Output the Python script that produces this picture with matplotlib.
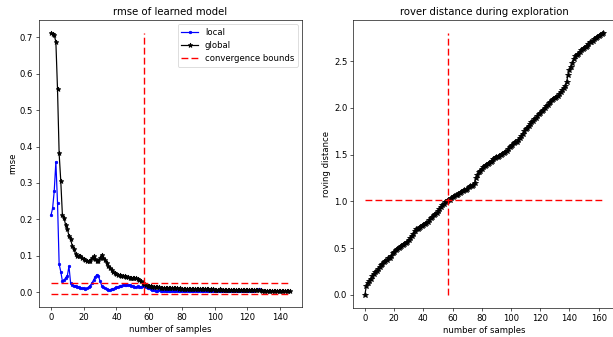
import matplotlib
matplotlib.use("Agg")
import matplotlib.pyplot as plt

# model error per sample count
local_rmse = [
    0.211, 0.230, 0.278, 0.358, 0.246, 0.077, 0.056, 0.030, 0.032, 0.040,
    0.045, 0.071, 0.025, 0.020, 0.018, 0.017, 0.015, 0.014, 0.012, 0.010,
    0.010, 0.009, 0.010, 0.013, 0.018, 0.025, 0.033, 0.042, 0.048, 0.044,
    0.030, 0.018, 0.013, 0.010, 0.008, 0.007, 0.007, 0.008, 0.009, 0.011,
    0.013, 0.015, 0.017, 0.018, 0.019, 0.020, 0.020, 0.019, 0.020, 0.018,
    0.016, 0.013, 0.015, 0.016, 0.014, 0.015, 0.016, 0.017, 0.014, 0.012,
    0.010, 0.008, 0.006, 0.005, 0.004, 0.004, 0.005, 0.004, 0.003, 0.003,
    0.004, 0.003, 0.002, 0.002, 0.003, 0.004, 0.003, 0.003, 0.004, 0.004,
    0.003, 0.003, 0.004, 0.003, 0.003, 0.002, 0.003, 0.003, 0.004, 0.003,
    0.003, 0.002, 0.002, 0.003, 0.003, 0.002, 0.002, 0.003, 0.003, 0.002,
    0.002, 0.003, 0.003, 0.002, 0.002, 0.002, 0.003, 0.002, 0.002, 0.003,
    0.003, 0.002, 0.002, 0.002, 0.003, 0.003, 0.002, 0.002, 0.003, 0.003,
    0.002, 0.002, 0.003, 0.003, 0.004, 0.005, 0.006, 0.008, 0.005,
]

global_rmse = [
    0.712, 0.710, 0.706, 0.688, 0.558, 0.381, 0.305, 0.211, 0.203, 0.184,
    0.173, 0.155, 0.146, 0.127, 0.118, 0.105, 0.100, 0.100, 0.098, 0.095,
    0.090, 0.087, 0.086, 0.085, 0.086, 0.095, 0.098, 0.090, 0.086, 0.085,
    0.095, 0.103, 0.095, 0.088, 0.080, 0.073, 0.066, 0.060, 0.056, 0.053,
    0.050, 0.048, 0.046, 0.045, 0.044, 0.043, 0.042, 0.041, 0.040, 0.040,
    0.039, 0.039, 0.038, 0.036, 0.034, 0.030, 0.026, 0.022, 0.019, 0.017,
    0.016, 0.016, 0.015, 0.014, 0.014, 0.013, 0.013, 0.012, 0.012, 0.012,
    0.011, 0.011, 0.010, 0.011, 0.010, 0.010, 0.010, 0.010, 0.009, 0.010,
    0.009, 0.009, 0.009, 0.009, 0.008, 0.009, 0.009, 0.008, 0.008, 0.009,
    0.008, 0.008, 0.008, 0.008, 0.008, 0.008, 0.008, 0.007, 0.008, 0.008,
    0.007, 0.007, 0.007, 0.008, 0.007, 0.007, 0.007, 0.007, 0.007, 0.007,
    0.007, 0.007, 0.006, 0.007, 0.007, 0.007, 0.006, 0.007, 0.007, 0.007,
    0.007, 0.007, 0.007, 0.006, 0.007, 0.007, 0.007, 0.006, 0.005, 0.004,
    0.004, 0.003, 0.003, 0.003, 0.004, 0.003, 0.003, 0.003, 0.003, 0.004,
    0.003, 0.003, 0.004, 0.003, 0.003, 0.003, 0.004,
]

# cumulative rover travel per sample
roving_distance = [
    0.00, 0.10, 0.13, 0.15, 0.17, 0.20, 0.22, 0.24, 0.26, 0.28,
    0.30, 0.32, 0.33, 0.35, 0.36, 0.37, 0.39, 0.40, 0.42, 0.45,
    0.46, 0.48, 0.49, 0.50, 0.51, 0.52, 0.53, 0.54, 0.55, 0.57,
    0.59, 0.61, 0.63, 0.65, 0.68, 0.70, 0.71, 0.72, 0.73, 0.74,
    0.75, 0.76, 0.77, 0.78, 0.80, 0.82, 0.83, 0.85, 0.87, 0.88,
    0.90, 0.92, 0.94, 0.96, 0.97, 0.99, 1.00, 1.01, 1.02, 1.04,
    1.05, 1.06, 1.07, 1.07, 1.08, 1.09, 1.10, 1.11, 1.12, 1.12,
    1.13, 1.15, 1.16, 1.17, 1.18, 1.20, 1.25, 1.28, 1.31, 1.33,
    1.35, 1.37, 1.38, 1.39, 1.40, 1.41, 1.42, 1.43, 1.45, 1.46,
    1.47, 1.48, 1.49, 1.50, 1.51, 1.52, 1.53, 1.54, 1.56, 1.58,
    1.59, 1.60, 1.62, 1.63, 1.64, 1.66, 1.68, 1.70, 1.72, 1.75,
    1.77, 1.79, 1.81, 1.83, 1.85, 1.86, 1.88, 1.89, 1.91, 1.93,
    1.95, 1.97, 1.98, 2.00, 2.02, 2.03, 2.05, 2.06, 2.08, 2.10,
    2.11, 2.12, 2.13, 2.15, 2.17, 2.19, 2.21, 2.23, 2.28, 2.35,
    2.40, 2.44, 2.48, 2.52, 2.55, 2.57, 2.58, 2.60, 2.62, 2.63,
    2.64, 2.65, 2.66, 2.68, 2.70, 2.71, 2.72, 2.74, 2.75, 2.76,
    2.77, 2.78, 2.79, 2.80,
]

converged_at = 57
bound_upper = 0.025
bound_lower = -0.005

W, H = 613, 337
DPI = 58
plt.rcParams["font.size"] = 10.6
plt.rcParams["axes.titlesize"] = 12.6

fig = plt.figure(figsize=(W / DPI, H / DPI), dpi=DPI)

ax1 = fig.add_axes([39 / W, 30 / H, 263 / W, 287 / H])
ax2 = fig.add_axes([353 / W, 29 / H, 262 / W, 288 / H])

dash = dict(color="red", linestyle=(0, (5.0, 2.3)), linewidth=1.7)

# left: rmse curves with convergence bounds
n_global = len(global_rmse)
ax1.plot(range(len(local_rmse)), local_rmse, "b.-", label="local")
ax1.plot(range(n_global), global_rmse, "k*-", markersize=6, label="global")
ax1.plot([converged_at, converged_at], [bound_lower, max(global_rmse)],
         label="convergence bounds", **dash)
ax1.plot([0, n_global - 1], [bound_upper, bound_upper], **dash)
ax1.plot([0, n_global - 1], [bound_lower, bound_lower], **dash)
ax1.set_title("rmse of learned model")
ax1.set_xlabel("number of samples")
ax1.set_ylabel("rmse")
ax1.set_xticks(range(0, 141, 20))
ax1.legend(loc="upper right")

# right: distance travelled
n_dist = len(roving_distance)
ax2.plot(range(n_dist), roving_distance, "k*-", markersize=7)
ax2.plot([converged_at, converged_at], [0, max(roving_distance)], **dash)
ax2.plot([0, n_dist - 1], [roving_distance[converged_at]] * 2, **dash)
ax2.set_title("rover distance during exploration")
ax2.set_xlabel("number of samples")
ax2.set_ylabel("roving distance")
ax2.set_xticks(range(0, 161, 20))

fig.savefig("out.png", dpi=DPI)
